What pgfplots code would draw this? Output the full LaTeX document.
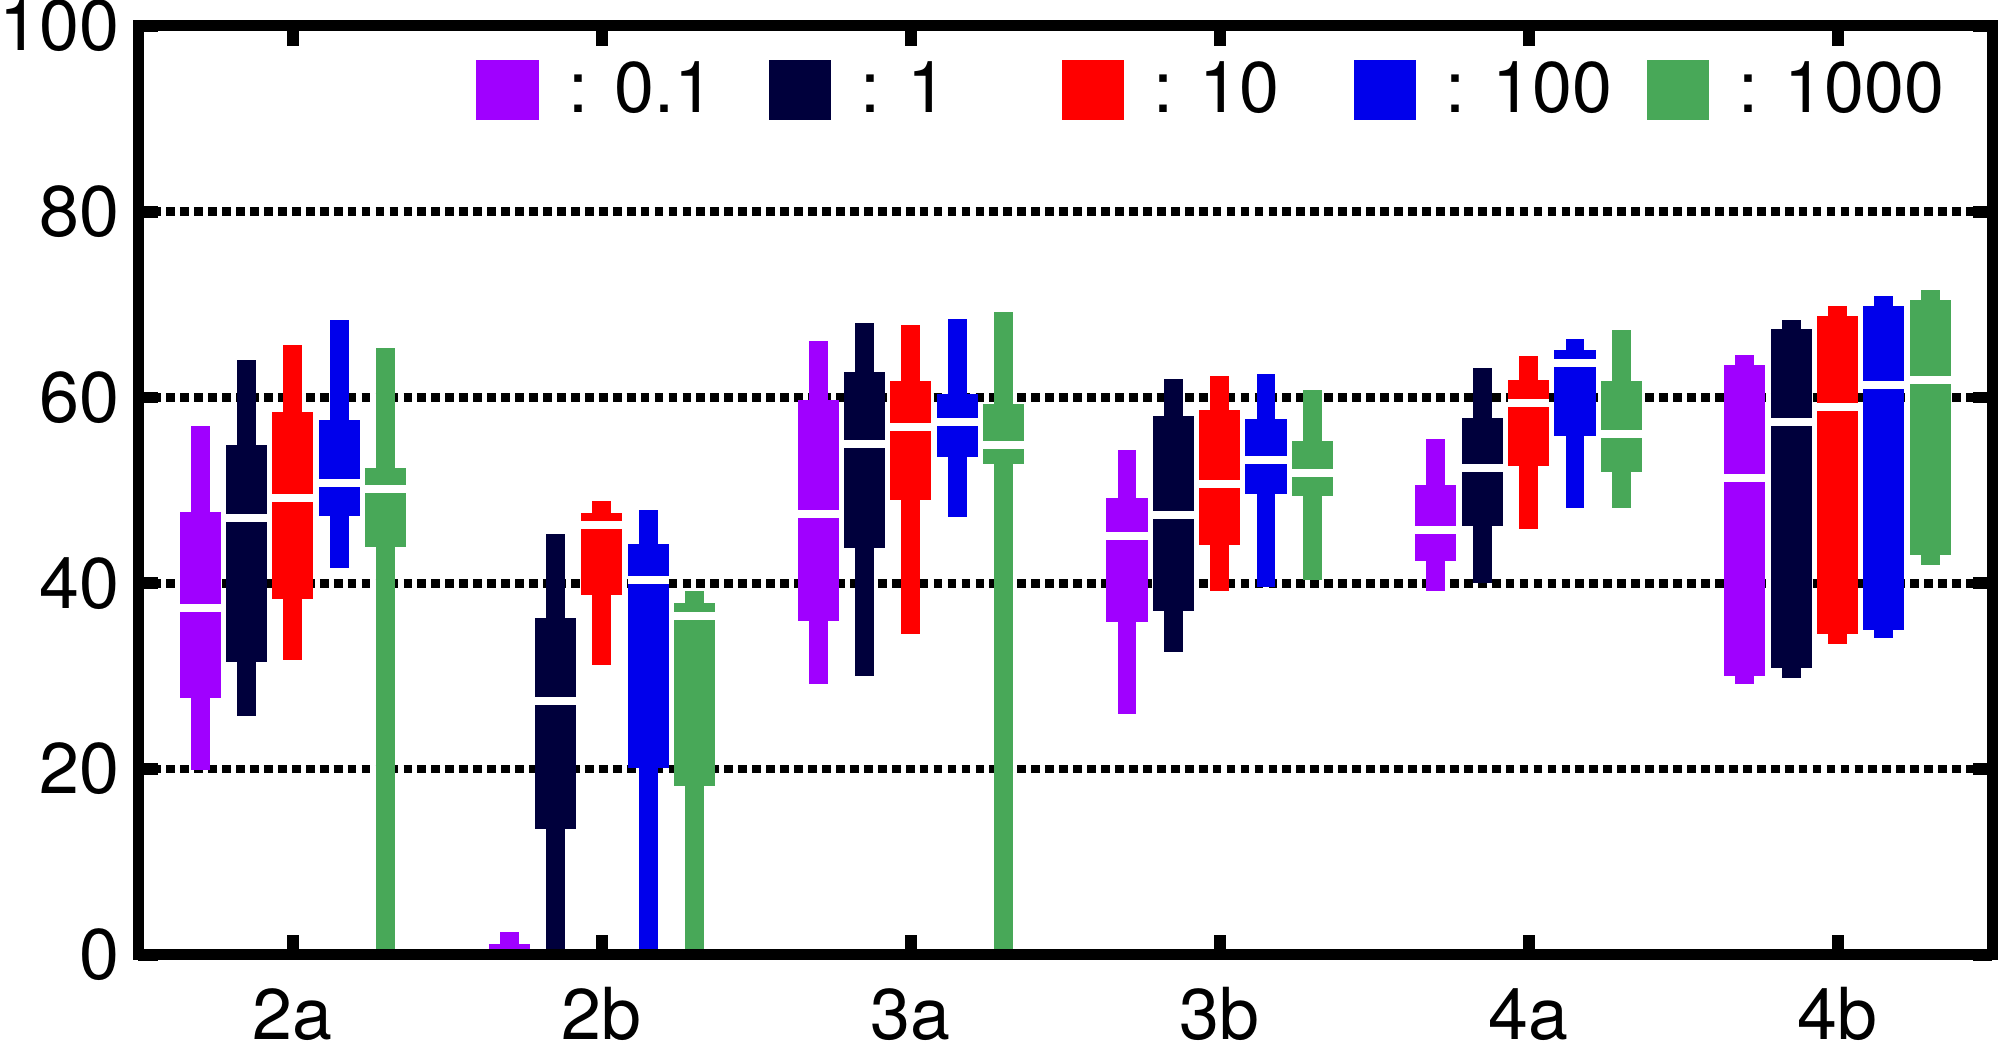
\documentclass[border=0pt]{standalone}
\usepackage{pgfplots}
\pgfplotsset{compat=1.18}
\usepgfplotslibrary{statistics}
\usepackage{fontspec}
\setmainfont{TeX Gyre Heros}
\definecolor{cpurp}{RGB}{160,0,255}
\definecolor{cnavy}{RGB}{0,0,60}
\definecolor{cred}{RGB}{255,0,0}
\definecolor{cblue}{RGB}{0,0,235}
\definecolor{cgreen}{RGB}{72,168,88}
\pgfplotsset{
  layers/mylayers/.define layer set={axis background,axis grid,pre main,main,axis ticks,axis lines,axis tick labels,axis descriptions,axis foreground}{
    grid style={/pgfplots/on layer=axis grid},
    tick style={/pgfplots/on layer=axis ticks},
    axis line style={/pgfplots/on layer=axis lines},
    label style={/pgfplots/on layer=axis descriptions},
    legend style={/pgfplots/on layer=axis descriptions},
    ticklabel style={/pgfplots/on layer=axis tick labels},
  },
  boxplot/draw direction=y,
  boxplot/draw/box/.code={%
    \fill[/pgfplots/boxplot/every box/.try]
      (boxplot box cs:\pgfplotsboxplotvalue{lower whisker},0.27)
      rectangle
      (boxplot box cs:\pgfplotsboxplotvalue{upper whisker},0.73);
    \fill[/pgfplots/boxplot/every box/.try]
      (boxplot box cs:\pgfplotsboxplotvalue{lower quartile},0)
      rectangle
      (boxplot box cs:\pgfplotsboxplotvalue{upper quartile},1);
    \pgfmathparse{\pgfplotsboxplotvalue{median}>\pgfplotsboxplotvalue{lower quartile}}%
    \ifdim\pgfmathresult pt>0.5pt
    \draw[white, line width=2pt]
      (boxplot box cs:\pgfplotsboxplotvalue{median},0)
      --
      (boxplot box cs:\pgfplotsboxplotvalue{median},1);
    \fi
  },
  boxplot/draw/median/.code={},
  boxplot/draw/lower whisker/.code={},
  boxplot/draw/upper whisker/.code={},
  bx/.style={forget plot, draw=none, boxplot prepared={box extend=0.133}},
}
\newcommand{\bp}[7]{%
  \addplot[#1, fill=#1, bx, boxplot prepared={draw direction=y, draw position=#2, lower whisker=#3, lower quartile=#4, median=#5, upper quartile=#6, upper whisker=#7}] coordinates {};
}
\begin{document}
\begin{tikzpicture}
\begin{axis}[
  set layers=mylayers,
  scale only axis, width=465pt, height=233pt,
  xmin=0.5, xmax=6.5, ymin=0, ymax=100,
  xtick={1,2,3,4,5,6}, xticklabels={2a,2b,3a,3b,4a,4b},
  ytick={0,20,40,60,80,100},
  ymajorgrids,
  grid style={black, line width=2.2pt, dash pattern=on 2.2pt off 1.3pt},
  tick align=inside, major tick length=4.9pt,
  tick style={black, line width=3pt},
  axis line style={line width=2.75pt},
  /pgf/number format/assume math mode=true,
  tick label style={font=\fontsize{18}{21.6}\selectfont},
  xticklabel style={inner sep=0pt, anchor=base, yshift=-21.3pt},
  yticklabel style={inner sep=0pt, xshift=-4.5pt},
  legend columns=5,
  legend style={at={(rel axis cs:0.1819,0.931)}, anchor=west, draw=none, fill=none, inner sep=0pt,
    font=\fontsize{18}{21.6}\selectfont, nodes={inner sep=0pt},
    /tikz/every odd column/.append style={column sep=7.4pt}},
  legend image code/.code={\fill[#1] (0pt,-7.3pt) rectangle (15.2pt,7.3pt);},
]
% 2a
\bp{cpurp}{0.70}{19.9}{27.6}{37.3}{47.7}{56.9}
\bp{cnavy}{0.85}{25.7}{31.5}{47.0}{54.9}{64.0}
\bp{cred}{1.00}{31.7}{38.3}{49.2}{58.4}{65.7}
\bp{cblue}{1.15}{41.6}{47.2}{50.8}{57.6}{68.3}
\bp{cgreen}{1.30}{0}{43.9}{50.1}{52.4}{65.3}
% 2b
\bp{cpurp}{1.70}{0}{0}{0}{1.2}{2.5}
\bp{cnavy}{1.85}{0}{13.5}{27.3}{36.3}{45.3}
\bp{cred}{2.00}{31.2}{38.7}{46.3}{47.6}{48.9}
\bp{cblue}{2.15}{0}{20.1}{40.4}{44.2}{47.9}
\bp{cgreen}{2.30}{0}{18.2}{36.5}{37.9}{39.2}
% 3a
\bp{cpurp}{2.70}{29.2}{35.9}{47.5}{59.7}{66.1}
\bp{cnavy}{2.85}{30.0}{43.8}{55.0}{62.7}{68.0}
\bp{cred}{3.00}{34.5}{49.0}{56.8}{61.8}{67.8}
\bp{cblue}{3.15}{47.1}{53.6}{57.4}{60.4}{68.5}
\bp{cgreen}{3.30}{0}{52.8}{54.9}{59.3}{69.2}
% 3b
\bp{cpurp}{3.70}{25.9}{35.8}{45.1}{49.2}{54.4}
\bp{cnavy}{3.85}{32.6}{37.0}{47.4}{58.0}{62.0}
\bp{cred}{4.00}{39.2}{44.1}{50.7}{58.6}{62.3}
\bp{cblue}{4.15}{39.6}{49.6}{53.3}{57.7}{62.5}
\bp{cgreen}{4.30}{40.4}{49.4}{51.9}{55.3}{60.8}
% 4a
\bp{cpurp}{4.70}{39.2}{42.4}{45.7}{50.6}{55.5}
\bp{cnavy}{4.85}{40.0}{46.2}{52.4}{57.8}{63.2}
\bp{cred}{5.00}{45.8}{52.6}{59.4}{61.9}{64.5}
\bp{cblue}{5.15}{48.1}{55.8}{63.7}{65.1}{66.3}
\bp{cgreen}{5.30}{48.1}{52.0}{56.1}{61.8}{67.3}
% 4b
\bp{cpurp}{5.70}{29.1}{30.0}{51.3}{63.5}{64.6}
\bp{cnavy}{5.85}{29.8}{30.9}{57.4}{67.4}{68.3}
\bp{cred}{6.00}{33.5}{34.5}{59.0}{68.8}{69.8}
\bp{cblue}{6.15}{34.1}{35.0}{61.3}{69.9}{70.9}
\bp{cgreen}{6.30}{42.0}{43.0}{61.9}{70.5}{71.6}
\addlegendimage{cpurp}\addlegendentry{\makebox[50.4pt][l]{: 0.1}}
\addlegendimage{cnavy}\addlegendentry{\makebox[50.4pt][l]{: 1}}
\addlegendimage{cred}\addlegendentry{\makebox[50.4pt][l]{: 10}}
\addlegendimage{cblue}\addlegendentry{\makebox[50.4pt][l]{: 100}}
\addlegendimage{cgreen}\addlegendentry{\makebox[50.4pt][l]{: 1000}}
\end{axis}
\end{tikzpicture}
\end{document}
